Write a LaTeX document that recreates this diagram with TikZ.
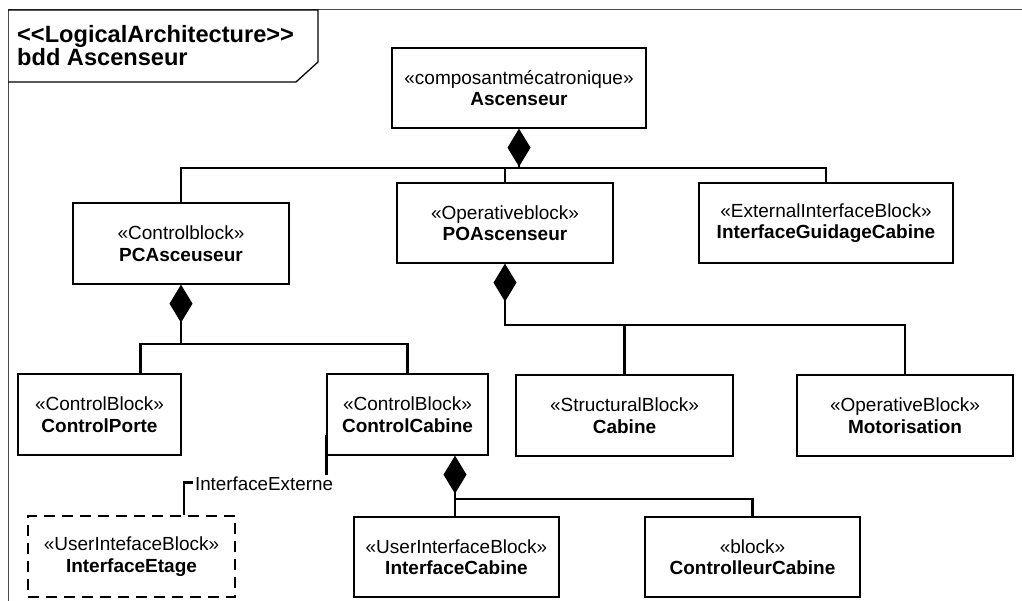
\documentclass[tikz,border=0pt]{standalone}
\usepackage{fontspec}
\setmainfont{Liberation Sans}
\usepackage{tikz}
\usetikzlibrary{arrows.meta,calc}
\definecolor{frameline}{HTML}{4A4A4A}
\tikzset{block/.style={draw=black,line width=1.3pt,fill=white,align=center,inner sep=0pt,
  font=\fontsize{19}{21.5}\selectfont},
  link/.style={line width=2.7pt,draw=black},
  compo/.style={link,{Diamond[length=38pt,width=23pt]}-}}
\begin{document}
\begin{tikzpicture}[x=1pt,y=-1pt]
\useasboundingbox (0,0) rectangle (1022,601);
% frame and header
\draw[frameline,line width=1pt] (8,601) -- (8,10) -- (1022,10);
\draw[line width=1.3pt] (8,10) -- (318,10) -- (318,62) -- (296,82) -- (8,82);
\node[anchor=west,align=left,inner sep=0pt,font=\bfseries\fontsize{23.6}{22}\selectfont] (hdr) at (17,46)
  {<\kern0pt<LogicalArchitecture>\kern0pt>\\bdd Ascenseur};
% blocks
\node[block,minimum width=254pt,minimum height=80pt] (asc) at (519,88) {«composantmécatronique»\\\textbf{Ascenseur}};
\node[block,minimum width=216pt,minimum height=81pt] (pc) at (181,243.5) {«Controlblock»\\\textbf{PCAsceuseur}};
\node[block,minimum width=216pt,minimum height=80pt] (po) at (505,223) {«Operativeblock»\\\textbf{POAscenseur}};
\node[block,minimum width=254pt,minimum height=80pt] (ifg) at (826,223) {«ExternalInterfaceBlock»\\\textbf{InterfaceGuidageCabine}};
\node[block,minimum width=163pt,minimum height=81pt] (cp) at (99.5,414.5) {«ControlBlock»\\\textbf{ControlPorte}};
\node[block,minimum width=161pt,minimum height=81pt] (cc) at (407.5,414.5) {«ControlBlock»\\\textbf{ControlCabine}};
\node[block,minimum width=217pt,minimum height=81pt] (cab) at (624.5,415.5) {«StructuralBlock»\\\textbf{Cabine}};
\node[block,minimum width=216pt,minimum height=81pt] (mot) at (905,415.5) {«OperativeBlock»\\\textbf{Motorisation}};
\node[block,dash pattern=on 11pt off 7pt,line width=2.4pt,minimum width=207pt,minimum height=81pt] (ie) at (131.5,556.5) {«UserIntefaceBlock»\\\textbf{InterfaceEtage}};
\node[block,minimum width=205pt,minimum height=80pt] (ic) at (456.5,557) {«UserInterfaceBlock»\\\textbf{InterfaceCabine}};
\node[block,minimum width=215pt,minimum height=80pt] (ctl) at (752.5,557) {«block»\\\textbf{ControlleurCabine}};
% compositions
\coordinate (jasc) at (519,168);
\draw[compo] (asc.south) -- (jasc);
\draw[link] (pc.north) |- (jasc) -| (ifg.north);
\draw[link] (po.north) -- (po.north |- jasc);
\coordinate (jpc) at (181,344);
\draw[compo] (pc.south) -- (jpc);
\draw[link] ([xshift=41pt]cp.north) |- (jpc) -| (cc.north);
\coordinate (jpo) at (505,325);
\draw[compo] (po.south) -- (jpo) -| (mot.north);
\draw[link] (cab.north) -- (cab.north |- jpo);
\coordinate (jcc) at (455,499);
\draw[compo] (cc.south -| jcc) -- (jcc) -| (ctl.north);
\draw[link] (jcc) -- (ic.north -| jcc);
% interface link
\draw[link] ($(cc.south west)+(0,-21)$) |- ($(ie.north)+(52.5,-32)$) -- ([xshift=52.5pt]ie.north);
\node[fill=white,inner sep=2pt,font=\fontsize{18.8}{21}\selectfont] (iext) at (264,484) {InterfaceExterne};
\end{tikzpicture}
\end{document}
